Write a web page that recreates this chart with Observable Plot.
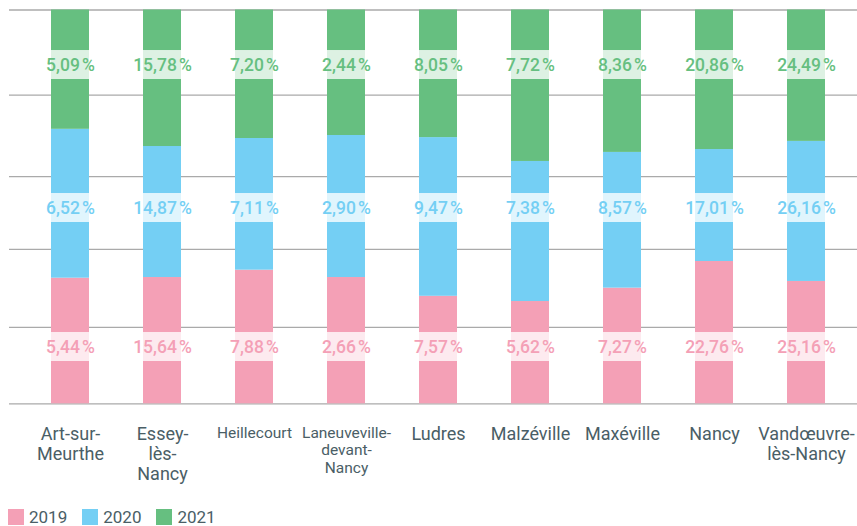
<!DOCTYPE html>
<html>
<head>
<meta charset="utf-8">
<script src="https://cdn.jsdelivr.net/npm/d3@7"></script>
<script src="https://cdn.jsdelivr.net/npm/@observablehq/plot@0.6"></script>
<style>
  html, body { margin: 0; padding: 0; background: #fff; }
  #chart { width: 857px; }
  .legend { display: flex; align-items: center; padding: 12px 0 0 8px; font-family: Roboto, sans-serif; font-size: 17px; color: #4a5e66; }
  .legend .item { display: flex; align-items: center; margin-right: 15px; }
  .legend .sw { width: 16px; height: 16px; margin-right: 5px; }
</style>
</head>
<body>
<div id="chart"></div>
<script>
const communes = ["Art-sur-Meurthe","Essey-lès-Nancy","Heillecourt","Laneuveville-devant-Nancy","Ludres","Malzéville","Maxéville","Nancy","Vandœuvre-lès-Nancy"];
const tickLabels = ["Art-sur-\nMeurthe","Essey-\nlès-\nNancy","Heillecourt","Laneuveville-\ndevant-\nNancy","Ludres","Malzéville","Maxéville","Nancy","Vandœuvre-\nlès-Nancy"];
const years = ["2019","2020","2021"];
// printed labels (share of each year's total, %)
const pct2019 = [5.44,15.64,7.88,2.66,7.57,5.62,7.27,22.76,25.16];
const pct2020 = [6.52,14.87,7.11,2.90,9.47,7.38,8.57,17.01,26.16];
const pct2021 = [5.09,15.78,7.20,2.44,8.05,7.72,8.36,20.86,24.49];
// bar segments (% of each bar)
const bar2019 = [31.9,32.1,33.9,32.1,27.3,26.0,29.4,36.1,31.1];
const bar2020 = [37.8,33.3,33.4,36.1,40.3,35.6,34.5,28.4,35.6];
const bar2021 = [30.3,34.7,32.6,31.9,32.4,38.5,36.2,35.4,33.4];
// horizontal grid lines (fraction of bar height)
const gridLines = [0, 0.194, 0.392, 0.577, 0.784, 1];

const colors = ["#f4a0b6","#74cff4","#66bf80"];
const labelY = {"2019": 0.1442, "2020": 0.4972, "2021": 0.8603};
const bandH = 0.0368;

const bars = {"2019": bar2019, "2020": bar2020, "2021": bar2021};
const pcts = {"2019": pct2019, "2020": pct2020, "2021": pct2021};
const rows = communes.flatMap((c, i) => years.map(y => ({commune: c, year: y, share: bars[y][i], pct: pcts[y][i]})));

const fr = d3.formatLocale({decimal: ",", thousands: "\u202F", grouping: [3], currency: ["", " €"]});
const fmt = fr.format(".2f");

const chart = Plot.plot({
  width: 857,
  height: 495,
  marginTop: 9.5,
  marginBottom: 91.7,
  marginLeft: 9,
  marginRight: 0,
  style: {fontFamily: "Roboto, sans-serif", background: "#fff"},
  x: {type: "band", domain: communes, range: [50, 825], paddingInner: 0.5875, paddingOuter: 0, axis: null},
  y: {domain: [0, 1], axis: null},
  color: {domain: years, range: colors},
  marks: [
    Plot.ruleY(gridLines, {stroke: "#aaaaaa", strokeWidth: 1.3}),
    Plot.barY(rows, Plot.stackY({offset: "normalize", x: "commune", y: "share", fill: "year"})),
    Plot.barY(rows, {x: "commune", y1: d => labelY[d.year] - bandH, y2: d => labelY[d.year] + bandH, fill: "white", fillOpacity: 0.78}),
    Plot.text(rows, {x: "commune", y: d => labelY[d.year], text: d => fmt(d.pct) + "\u202F%", fill: "year", fontSize: 17.5, fontWeight: 500}),
    Plot.text(communes, {
      x: d => d,
      text: (d, i) => tickLabels[i],
      frameAnchor: "bottom",
      lineAnchor: "top",
      dy: 21.7,
      lineHeight: 1.12,
      fontSize: (d, i) => tickLabels[i].split("\n").some(l => l.length > 10) ? 15.5 : 18,
      fill: "#4a5e66"
    })
  ]
});
document.getElementById("chart").appendChild(chart);

const legend = document.createElement("div");
legend.className = "legend";
years.forEach((y, i) => {
  const item = document.createElement("div");
  item.className = "item";
  const sw = document.createElement("div");
  sw.className = "sw";
  sw.style.background = colors[i];
  const t = document.createElement("span");
  t.textContent = y;
  item.appendChild(sw);
  item.appendChild(t);
  legend.appendChild(item);
});
document.getElementById("chart").appendChild(legend);
</script>
</body>
</html>
